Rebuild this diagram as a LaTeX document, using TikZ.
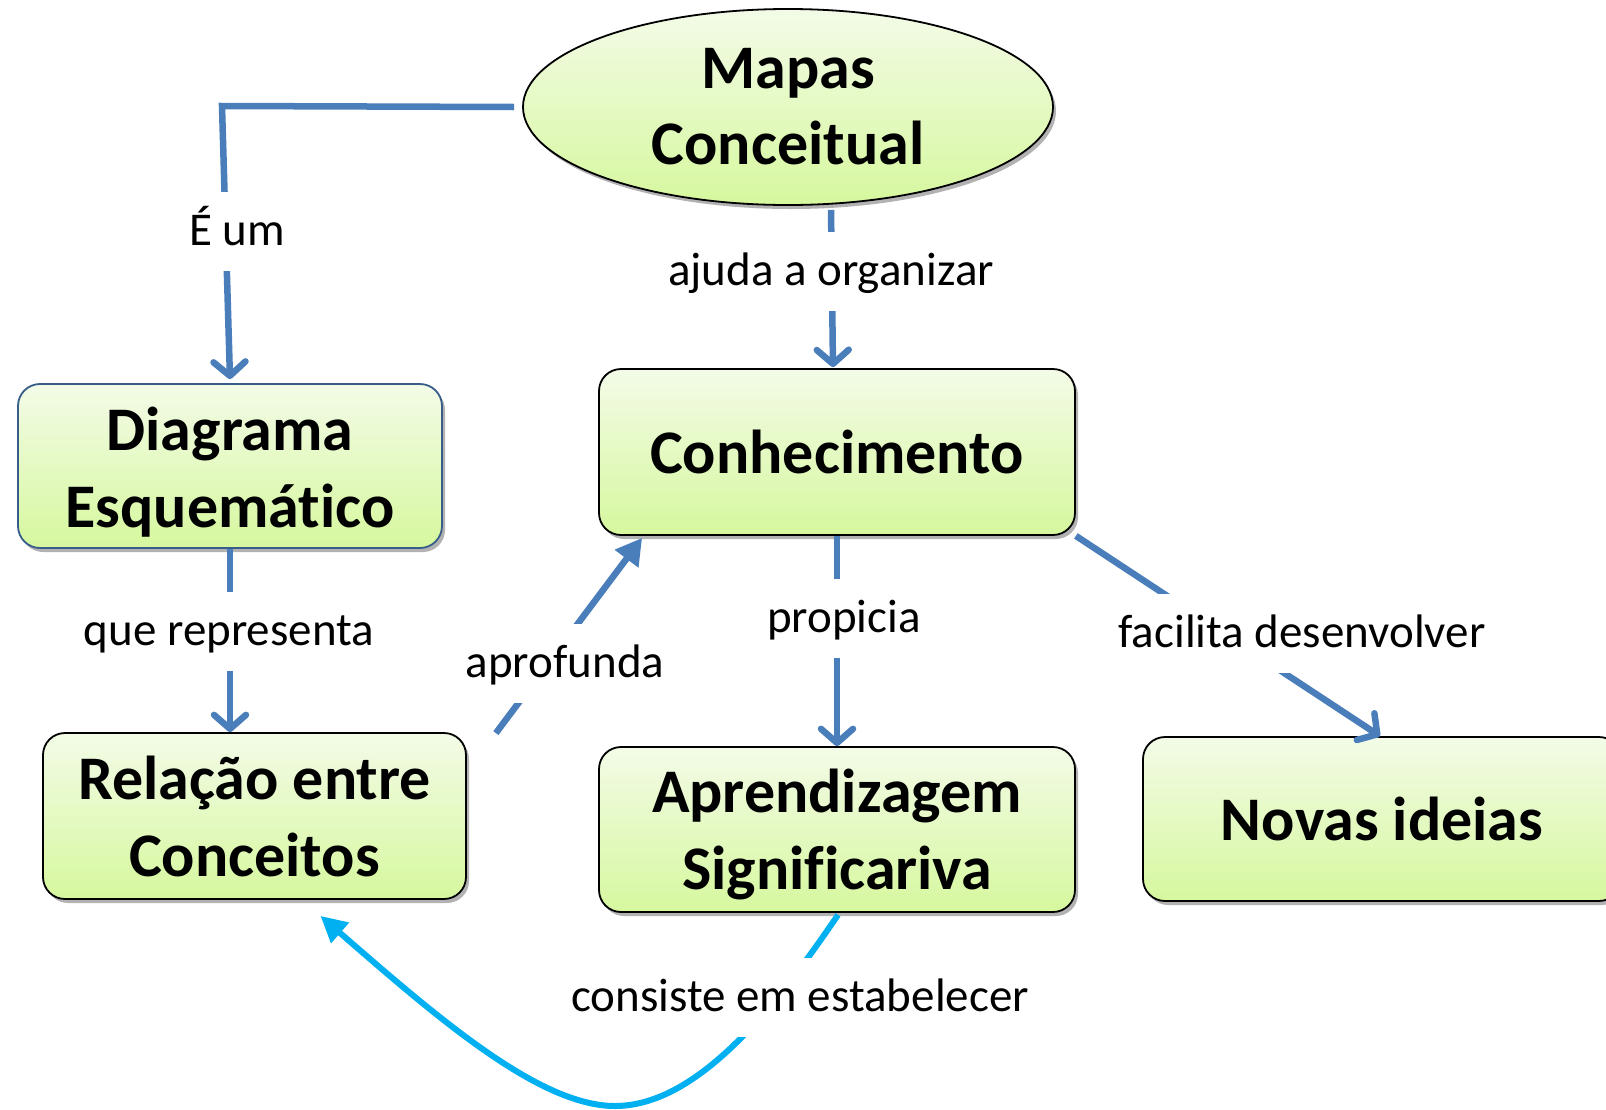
\documentclass[tikz,border=0pt]{standalone}
\usepackage{fontspec}
\setmainfont{Carlito}[Ligatures=NoCommon]
\usetikzlibrary{arrows.meta,shapes.geometric,shadows,calc}
\definecolor{lnblue}{RGB}{74,126,187}
\definecolor{cyanl}{RGB}{0,176,240}
\definecolor{gtop}{RGB}{243,251,231}
\definecolor{gbot}{RGB}{214,248,158}
\definecolor{dbord}{RGB}{56,93,138}
\newcommand{\lowertext}[3]{\raisebox{-#1}[\height][\depth]{\parbox{#2}{\centering #3}}}
\begin{document}
\begin{tikzpicture}[x=1pt,y=-1pt,
  concept/.style={rectangle, rounded corners=22pt, draw=black, line width=1.8pt,
    top color=gtop, bottom color=gbot,
    drop shadow={shadow xshift=3pt, shadow yshift=-4pt, opacity=0.3, fill=black},
    align=center, font=\bfseries\fontsize{62}{77}\selectfont, inner sep=0pt},
  lbl/.style={fill=white, font=\fontsize{47}{56}\selectfont, text height=53pt,
    text depth=26pt, inner xsep=4pt, inner ysep=0pt, anchor=base},
  conn/.style={draw=lnblue, line width=6.5pt,
    -{Straight Barb[length=14pt,width=32pt,round]}},
  fconn/.style={draw=lnblue, line width=6.5pt, -{Triangle[length=26pt,width=28pt]}},
  cconn/.style={draw=cyanl, line width=6pt, -{Triangle[length=26pt,width=26pt]}}
]
\useasboundingbox (0,0) rectangle (1606,1109);
\clip (0,0) rectangle (1606,1109);
\fill[white] (0,0) rectangle (1606,1109);

% nodes
\node[ellipse, draw=black, line width=1.8pt, top color=gtop, bottom color=gbot,
  drop shadow={shadow xshift=3pt, shadow yshift=-4pt, opacity=0.3, fill=black},
  minimum width=530pt, minimum height=196pt, inner sep=0pt, align=center,
  font=\bfseries\fontsize{62}{76}\selectfont] (E) at (788,107) {Mapas\\Conceitual};
\node[concept, draw=dbord, minimum width=424pt, minimum height=164pt] (Dg) at (230,466) {\lowertext{6pt}{380pt}{Diagrama\\Esquemático}};
\node[concept, minimum width=476pt, minimum height=166pt] (Co) at (837,452) {Conhecimento};
\node[concept, minimum width=423pt, minimum height=166pt] (Rl) at (254.5,816) {Relação entre\\Conceitos};
\node[concept, minimum width=476pt, minimum height=165pt] (Ap) at (837,829.5) {\lowertext{5pt}{420pt}{Aprendizagem\\Significariva}};
\node[concept, minimum width=478pt, minimum height=164pt] (Nv) at (1382,819) {Novas ideias};

% connectors
\coordinate (c1) at (222,106);
\draw[conn] ([xshift=-8pt]E.west) -- (c1) -- ([yshift=4pt]Dg.north);
\draw[conn] ($(E.south)+(43,4)$) -- ($(Co.north)+(-4,-1)$);
\draw[conn] (Dg.south) -- (Dg.south |- Rl.north);
\draw[conn] (Co.south) -- (Ap.north);
\draw[conn] (Co.south east) -- ($(Nv.north)+(-2,0)$);
\draw[fconn] ($(Rl.north east)+(29,1)$) -- ($(Co.south west)+(44,2)$);
\draw[cconn] ($(Ap.south)+(1,2)$) .. controls (780,1000) and (700,1106) .. (615,1106)
   .. controls (540,1106) and (440,1020) .. ($(Rl.south)+(66,16)$);

% labels
\node[lbl] (l1) at (237,245) {É um};
\node[lbl] (l2) at (831,285) {ajuda a organizar};
\node[lbl] (l3) at (229,645) {que representa};
\node[lbl] (l4) at (844,632) {propicia};
\node[lbl] (l5) at (565,677) {aprofunda};
\node[lbl] (l6) at (1302,647) {facilita desenvolver};
\node[lbl] (l7) at (800,1011) {consiste em estabelecer};
\end{tikzpicture}
\end{document}
